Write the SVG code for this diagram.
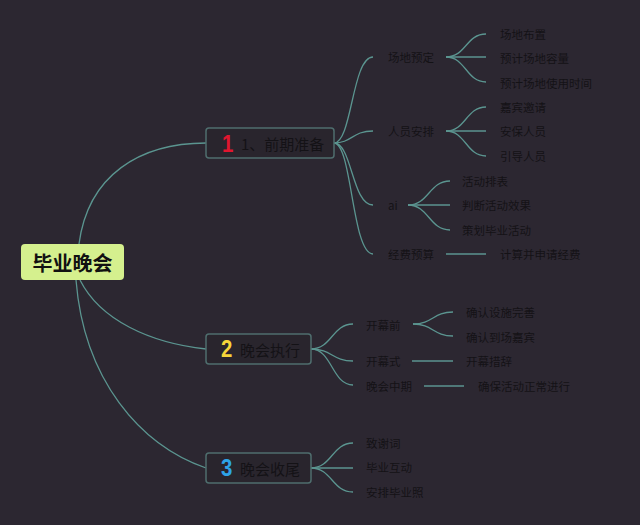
<svg xmlns="http://www.w3.org/2000/svg" width="640" height="525" viewBox="0 0 640 525">
<style>
.t{font-family:"Noto Sans CJK SC","Noto Sans",sans-serif;font-size:11.5px;fill:#141216;dominant-baseline:central}
.m{font-family:"Noto Sans CJK SC","Noto Sans",sans-serif;font-size:15px;fill:#141216;dominant-baseline:central}
.n{font-family:"Liberation Sans","Noto Sans",sans-serif;font-size:24px;font-weight:bold;dominant-baseline:central}
.c{fill:none;stroke:#5b9590;stroke-width:1.3}
.b{fill:#29252d;stroke:#4f6e6e;stroke-width:1.5}
</style>
<rect width="640" height="525" fill="#2c2731"/>
<g id="connectors">
<path class="c" d="M79,244 C88,175 140,143 206,143"/>
<path class="c" d="M80,280 C100,320 150,343 206,349"/>
<path class="c" d="M76,280 C84,380 140,445 206,468"/>
<path class="c" d="M334,143 C352,143 352,57 373,57"/>
<path class="c" d="M334,143 C352,143 352,131 373,131"/>
<path class="c" d="M334,143 C352,143 352,205 373,205"/>
<path class="c" d="M334,143 C352,143 352,254 373,254"/>
<path class="c" d="M446,57 C466,57 466,34 486,34"/>
<path class="c" d="M446,57 L486,57"/>
<path class="c" d="M446,57 C466,57 466,82 486,82"/>
<path class="c" d="M446,131 C466,131 466,107 486,107"/>
<path class="c" d="M446,131 L486,131"/>
<path class="c" d="M446,131 C466,131 466,156 486,156"/>
<path class="c" d="M408,205 C429,205 429,181 450,181"/>
<path class="c" d="M408,205 L450,205"/>
<path class="c" d="M408,205 C429,205 429,230 450,230"/>
<path class="c" d="M446,254 L486,254"/>
<path class="c" d="M311,349 C332,349 332,324 353,324"/>
<path class="c" d="M311,349 C332,349 332,361 353,361"/>
<path class="c" d="M311,349 C332,349 332,385 353,385"/>
<path class="c" d="M413,324 C433,324 433,312 453,312"/>
<path class="c" d="M413,324 C433,324 433,336 453,336"/>
<path class="c" d="M412,361 L453,361"/>
<path class="c" d="M424,386 L464,386"/>
<path class="c" d="M311,468 C332,468 332,443 353,443"/>
<path class="c" d="M311,468 L353,468"/>
<path class="c" d="M311,468 C332,468 332,492 353,492"/>
</g>
<g id="root">
<rect x="21" y="244" width="103" height="36" rx="4" fill="#d5f08e"/>
<text x="72.5" y="262" text-anchor="middle" font-family="Noto Sans CJK SC,sans-serif" font-size="20" font-weight="bold" fill="#111" dominant-baseline="central">毕业晚会</text>
</g>
<g id="node1">
<rect class="b" x="206" y="128" width="128" height="30" rx="3"/>
<text class="n" x="222" y="144" fill="#e0162f" transform="translate(222 144) scale(0.85 1) translate(-222 -144)">1</text>
<text class="m" x="241" y="143">1、前期准备</text>
</g>
<g id="node2">
<rect class="b" x="206" y="334" width="105" height="30" rx="3"/>
<text class="n" x="221" y="349" fill="#f5d53a" transform="translate(221 349) scale(0.85 1) translate(-221 -349)">2</text>
<text class="m" x="240" y="349">晚会执行</text>
</g>
<g id="node3">
<rect class="b" x="206" y="453" width="105" height="30" rx="3"/>
<text class="n" x="221" y="468" fill="#2ea3e8" transform="translate(221 468) scale(0.85 1) translate(-221 -468)">3</text>
<text class="m" x="240" y="468">晚会收尾</text>
</g>
<g id="n1-children">
<text class="t" x="388" y="57">场地预定</text>
<text class="t" x="388" y="131">人员安排</text>
<text class="t" x="388" y="205">ai</text>
<text class="t" x="388" y="254">经费预算</text>
<text class="t" x="500" y="34">场地布置</text>
<text class="t" x="500" y="58">预计场地容量</text>
<text class="t" x="500" y="83">预计场地使用时间</text>
<text class="t" x="500" y="107">嘉宾邀请</text>
<text class="t" x="500" y="131">安保人员</text>
<text class="t" x="500" y="156">引导人员</text>
<text class="t" x="462" y="181">活动排表</text>
<text class="t" x="462" y="205">判断活动效果</text>
<text class="t" x="462" y="230">策划毕业活动</text>
<text class="t" x="500" y="254">计算并申请经费</text>
</g>
<g id="n2-children">
<text class="t" x="366" y="325">开幕前</text>
<text class="t" x="366" y="361">开幕式</text>
<text class="t" x="366" y="386">晚会中期</text>
<text class="t" x="466" y="312">确认设施完善</text>
<text class="t" x="466" y="337">确认到场嘉宾</text>
<text class="t" x="466" y="361">开幕措辞</text>
<text class="t" x="478" y="386">确保活动正常进行</text>
</g>
<g id="n3-children">
<text class="t" x="366" y="443">致谢词</text>
<text class="t" x="366" y="467">毕业互动</text>
<text class="t" x="366" y="492">安排毕业照</text>
</g>
</svg>
